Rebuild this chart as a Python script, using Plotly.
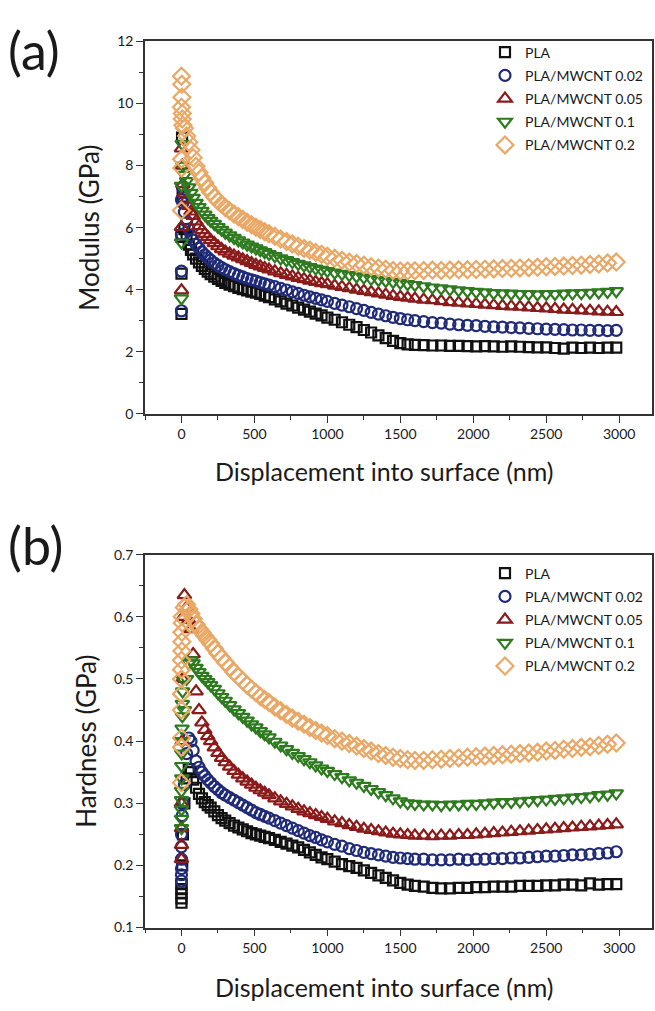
import plotly.graph_objects as go

# ---------------- data ----------------
SERIES = ["PLA", "PLA/MWCNT 0.02", "PLA/MWCNT 0.05", "PLA/MWCNT 0.1", "PLA/MWCNT 0.2"]

DISP = [20, 35, 50, 65, 80,
        100, 120, 140, 160, 180,
        200, 225, 250, 275, 300,
        330, 360, 390, 420, 450,
        480, 510, 540, 570, 600,
        640, 680, 720, 760, 800,
        840, 880, 920, 960, 1000,
        1050, 1100, 1150, 1200, 1250,
        1300, 1350, 1400, 1450, 1500,
        1550, 1600, 1660, 1720, 1780,
        1840, 1900, 1960, 2020, 2080,
        2140, 2200, 2260, 2320, 2380,
        2440, 2500, 2560, 2620, 2680,
        2740, 2800, 2860, 2920, 2980]

# Modulus (GPa)
MOD_PLA = [5.95, 5.7, 5.45, 5.28, 5.14,
           5.0, 4.88, 4.77, 4.67, 4.58,
           4.5, 4.42, 4.35, 4.28, 4.22,
           4.16, 4.11, 4.06, 4.02, 3.98,
           3.94, 3.9, 3.86, 3.81, 3.76,
           3.69, 3.62, 3.55, 3.49, 3.42,
           3.36, 3.29, 3.23, 3.17, 3.1,
           3.03, 2.95, 2.87, 2.79, 2.7,
           2.62, 2.53, 2.44, 2.35, 2.28,
           2.24, 2.22, 2.21, 2.2, 2.2,
           2.19, 2.19, 2.18, 2.17, 2.18,
           2.17, 2.16, 2.17, 2.16, 2.15,
           2.14, 2.14, 2.12, 2.1, 2.13,
           2.12, 2.13, 2.12, 2.13, 2.13]
MOD_002 = [6.5, 6.2, 5.95, 5.75, 5.6,
           5.46, 5.34, 5.22, 5.12, 5.03,
           4.95, 4.86, 4.78, 4.71, 4.65,
           4.58, 4.52, 4.46, 4.41, 4.36,
           4.32, 4.28, 4.23, 4.19, 4.15,
           4.1, 4.04, 3.99, 3.93, 3.88,
           3.82, 3.77, 3.72, 3.67, 3.62,
           3.56, 3.5, 3.45, 3.39, 3.33,
           3.27, 3.21, 3.16, 3.11, 3.07,
           3.03, 3.0, 2.97, 2.94, 2.92,
           2.89, 2.87, 2.85, 2.84, 2.82,
           2.8, 2.79, 2.78, 2.77, 2.75,
           2.74, 2.73, 2.72, 2.71, 2.7,
           2.7, 2.69, 2.69, 2.68, 2.69]
MOD_005 = [7.1, 6.9, 6.7, 6.52, 6.38,
           6.2, 6.05, 5.92, 5.8, 5.7,
           5.6, 5.5, 5.4, 5.31, 5.23,
           5.16, 5.1, 5.04, 4.98, 4.92,
           4.86, 4.8, 4.75, 4.7, 4.65,
           4.59, 4.53, 4.48, 4.43, 4.38,
           4.34, 4.29, 4.25, 4.21, 4.18,
           4.13, 4.09, 4.05, 4.0, 3.96,
           3.92, 3.88, 3.84, 3.8, 3.77,
           3.74, 3.71, 3.68, 3.66, 3.63,
           3.6, 3.58, 3.56, 3.54, 3.52,
           3.5, 3.48, 3.46, 3.45, 3.43,
           3.41, 3.4, 3.38, 3.36, 3.35,
           3.33, 3.32, 3.3, 3.29, 3.28]
MOD_01 = [7.7, 7.5, 7.3, 7.12, 6.96,
          6.8, 6.66, 6.54, 6.42, 6.31,
          6.22, 6.12, 6.02, 5.93, 5.84,
          5.75, 5.67, 5.59, 5.52, 5.45,
          5.39, 5.33, 5.27, 5.21, 5.15,
          5.08, 5.01, 4.95, 4.89, 4.83,
          4.78, 4.73, 4.68, 4.64, 4.6,
          4.55, 4.51, 4.47, 4.43, 4.39,
          4.35, 4.31, 4.28, 4.25, 4.22,
          4.18, 4.15, 4.11, 4.07, 4.04,
          4.01, 3.98, 3.95, 3.93, 3.91,
          3.89, 3.88, 3.87, 3.86, 3.86,
          3.85, 3.86, 3.86, 3.87, 3.88,
          3.89, 3.9, 3.91, 3.93, 3.95]
MOD_02 = [9.2, 8.95, 8.75, 8.5, 8.25,
          7.98, 7.78, 7.6, 7.44, 7.28,
          7.14, 6.99, 6.86, 6.75, 6.65,
          6.54, 6.44, 6.35, 6.26, 6.17,
          6.09, 6.01, 5.94, 5.87, 5.8,
          5.72, 5.63, 5.55, 5.47, 5.4,
          5.33, 5.27, 5.2, 5.14, 5.08,
          5.01, 4.95, 4.89, 4.84, 4.79,
          4.74, 4.7, 4.66, 4.62, 4.6,
          4.6, 4.61, 4.62, 4.63, 4.62,
          4.63, 4.64, 4.64, 4.65, 4.66,
          4.67, 4.68, 4.69, 4.7, 4.71,
          4.72, 4.74, 4.75, 4.76, 4.78,
          4.79, 4.81, 4.83, 4.86, 4.89]

# near-surface points (displacement ~0) of the modulus curves
MOD_PRE_X = [[0, 0, 0, 4, 8],
             [0, 0, 0, 0, 6, 10],
             [0, 0, 0, 5, 10],
             [0, 0, 0, 5, 10],
             [0, 2, 3, 0, 6, 0, 2, 0, 5, 10]]
MOD_PRE_Y = [[3.22, 4.52, 5.7, 8.9, 7.0],
             [3.32, 4.6, 5.78, 6.9, 7.3, 6.8],
             [3.98, 6.02, 8.55, 8.0, 7.4],
             [3.72, 5.52, 7.35, 8.7, 8.0],
             [10.88, 10.62, 10.2, 9.88, 9.68, 8.2, 7.92, 6.55, 9.5, 9.3]]

# Hardness (GPa)
HARD_PLA = [0.3, 0.34, 0.355, 0.35, 0.338,
            0.325, 0.315, 0.308, 0.302, 0.297,
            0.293, 0.287, 0.281, 0.276, 0.272,
            0.268, 0.264, 0.261, 0.258, 0.255,
            0.252, 0.25, 0.248, 0.246, 0.244,
            0.241, 0.238, 0.235, 0.232, 0.229,
            0.225, 0.221, 0.217, 0.213, 0.21,
            0.206, 0.202, 0.199, 0.196, 0.192,
            0.188, 0.184, 0.18, 0.176, 0.172,
            0.169, 0.167, 0.166, 0.164, 0.163,
            0.163, 0.164, 0.164, 0.165, 0.165,
            0.166, 0.166, 0.166, 0.167, 0.167,
            0.167, 0.168, 0.168, 0.169, 0.169,
            0.168, 0.171, 0.169, 0.17, 0.17]
HARD_002 = [0.33, 0.38, 0.405, 0.4, 0.385,
            0.368, 0.358, 0.35, 0.344, 0.338,
            0.333, 0.327, 0.322, 0.317, 0.313,
            0.309, 0.305, 0.301, 0.297, 0.293,
            0.289, 0.285, 0.282, 0.279, 0.276,
            0.272, 0.268, 0.264, 0.26, 0.256,
            0.252, 0.248, 0.245, 0.241, 0.238,
            0.234, 0.231, 0.227, 0.224, 0.221,
            0.219, 0.217, 0.215, 0.213, 0.212,
            0.211, 0.21, 0.21, 0.209, 0.209,
            0.209, 0.21, 0.209, 0.21, 0.21,
            0.211, 0.211, 0.212, 0.212, 0.213,
            0.214, 0.215, 0.215, 0.216, 0.217,
            0.217, 0.218, 0.219, 0.22, 0.222]
HARD_005 = [0.635, 0.615, 0.595, 0.58, 0.54,
            0.48, 0.45, 0.43, 0.418, 0.408,
            0.4, 0.39, 0.381, 0.373, 0.366,
            0.359, 0.352, 0.346, 0.34, 0.335,
            0.33, 0.325, 0.321, 0.317, 0.313,
            0.308, 0.303, 0.299, 0.295, 0.291,
            0.287, 0.284, 0.281, 0.278, 0.275,
            0.271, 0.268, 0.265, 0.262, 0.259,
            0.257, 0.255, 0.253, 0.251, 0.25,
            0.249, 0.248, 0.248, 0.247, 0.248,
            0.248, 0.249, 0.249, 0.25, 0.251,
            0.252, 0.253, 0.254, 0.255, 0.256,
            0.257, 0.258, 0.259, 0.26, 0.261,
            0.262, 0.263, 0.264, 0.265, 0.266]
HARD_01 = [0.45, 0.5, 0.525, 0.53, 0.525,
           0.518, 0.511, 0.505, 0.5, 0.495,
           0.49, 0.484, 0.477, 0.471, 0.465,
           0.458, 0.451, 0.445, 0.439, 0.433,
           0.427, 0.422, 0.416, 0.411, 0.406,
           0.399, 0.393, 0.387, 0.381, 0.376,
           0.371, 0.366, 0.361, 0.356, 0.352,
           0.347, 0.342, 0.337, 0.333, 0.328,
           0.323, 0.318, 0.313, 0.308, 0.303,
           0.3, 0.299, 0.298, 0.298, 0.297,
           0.298, 0.298, 0.299, 0.299, 0.3,
           0.301, 0.302, 0.302, 0.303, 0.304,
           0.305, 0.306, 0.307, 0.308, 0.309,
           0.31, 0.311, 0.313, 0.314, 0.316]
HARD_02 = [0.615, 0.62, 0.612, 0.605, 0.597,
           0.588, 0.581, 0.575, 0.569, 0.563,
           0.557, 0.549, 0.541, 0.534, 0.527,
           0.519, 0.511, 0.504, 0.497, 0.49,
           0.484, 0.478, 0.472, 0.467, 0.462,
           0.455, 0.449, 0.443, 0.437, 0.432,
           0.427, 0.422, 0.417, 0.413, 0.409,
           0.404, 0.4, 0.396, 0.392, 0.388,
           0.384, 0.38, 0.377, 0.374, 0.372,
           0.37, 0.369, 0.369, 0.37, 0.371,
           0.372, 0.373, 0.374, 0.375, 0.376,
           0.377, 0.378, 0.379, 0.38, 0.381,
           0.382, 0.384, 0.385, 0.387, 0.388,
           0.39, 0.391, 0.393, 0.395, 0.397]

HARD_PRE_X = [[0, 0, 0, 0, 0, 5, 10],
              [0, 0, 0, 0, 0, 0, 5, 10],
              [0, 0, 0, 0, 5, 8, 12],
              [0, 0, 0, 0, 0, 2, 2, 2, 4, 4, 6, 6, 8, 10],
              [0, 0, 0, 0, 0, 0, 0, 0, 3, 3, 3, 5, 5]]
HARD_PRE_Y = [[0.14, 0.147, 0.155, 0.162, 0.17, 0.2, 0.25],
              [0.175, 0.185, 0.195, 0.21, 0.23, 0.25, 0.28, 0.3],
              [0.21, 0.233, 0.26, 0.3, 0.4, 0.5, 0.6],
              [0.26, 0.275, 0.29, 0.305, 0.32, 0.34, 0.36, 0.38, 0.4, 0.42, 0.44, 0.46, 0.48, 0.5],
              [0.333, 0.39, 0.405, 0.45, 0.476, 0.5, 0.515, 0.53, 0.545, 0.56, 0.575, 0.59, 0.6]]

MODULUS = [MOD_PLA, MOD_002, MOD_005, MOD_01, MOD_02]
HARDNESS = [HARD_PLA, HARD_002, HARD_005, HARD_01, HARD_02]

X_TICKS = [0, 500, 1000, 1500, 2000, 2500, 3000]
X_TITLE = "Displacement into surface (nm)"

# ---------------- style ----------------
COLORS = ["#111111", "#1f2a78", "#8b1a1a", "#2e7a1f", "#e9a866"]
SYMBOLS = ["square-open", "circle-open", "triangle-up-open", "triangle-down-open", "diamond-open"]
SIZES = [10, 11, 12, 12, 13]
FONT = "Lato, 'Open Sans', sans-serif"
TXT = "#1a1a1a"

fig = go.Figure()

for panel, (vals, pre_x, pre_y) in enumerate([(MODULUS, MOD_PRE_X, MOD_PRE_Y),
                                              (HARDNESS, HARD_PRE_X, HARD_PRE_Y)]):
    xa = "x" if panel == 0 else "x2"
    ya = "y" if panel == 0 else "y2"
    leg = "legend" if panel == 0 else "legend2"
    for i, name in enumerate(SERIES):
        fig.add_trace(go.Scatter(
            x=pre_x[i] + DISP,
            y=pre_y[i] + vals[i],
            mode="markers",
            name=name,
            legendgroup=f"{panel}-{i}",
            legend=leg,
            xaxis=xa, yaxis=ya,
            marker=dict(symbol=SYMBOLS[i], size=SIZES[i], color=COLORS[i],
                        line=dict(width=2.2, color=COLORS[i])),
            showlegend=True,
        ))

W, H = 655, 1011
xdom = [145 / W, 652 / W]
ydom_a = [1 - 411.7 / H, 1 - 33 / H]
ydom_b = [1 - 934.3 / H, 1 - 555 / H]

axis_common = dict(
    showline=True, linecolor="#333333", linewidth=1.5, mirror=True,
    ticks="outside", ticklen=7, tickwidth=1.2, tickcolor="#333333",
    showgrid=False, zeroline=False,
    tickfont=dict(family=FONT, size=14, color=TXT),
)

xaxis_common = dict(axis_common, range=[-250, 3225], tickvals=X_TICKS,
                    minor=dict(ticks="outside", ticklen=4, tickwidth=1.2,
                               tickcolor="#333333", dtick=250, tick0=-250))

legend_common = dict(x=485 / W, xanchor="left", yanchor="top",
                     bgcolor="rgba(0,0,0,0)", font=dict(family=FONT, size=14, color=TXT),
                     tracegroupgap=2, itemclick=False)

fig.update_layout(
    width=W, height=H,
    margin=dict(l=0, r=0, t=0, b=0),
    paper_bgcolor="white", plot_bgcolor="white",
    font=dict(family=FONT, color=TXT),
    xaxis=dict(xaxis_common, domain=xdom, anchor="y"),
    xaxis2=dict(xaxis_common, domain=xdom, anchor="y2"),
    yaxis=dict(axis_common, domain=ydom_a, anchor="x", range=[0, 12], dtick=2,
               minor=dict(ticks="outside", ticklen=4, tickwidth=1.2, tickcolor="#333333", dtick=1),
               title=dict(text="Modulus (GPa)", font=dict(family=FONT, size=26, color=TXT), standoff=10)),
    yaxis2=dict(axis_common, domain=ydom_b, anchor="x2", range=[0.1, 0.7], dtick=0.1,
                tickformat=".1f",
                minor=dict(ticks="outside", ticklen=4, tickwidth=1.2, tickcolor="#333333", dtick=0.05),
                title=dict(text="Hardness (GPa)", font=dict(family=FONT, size=26, color=TXT), standoff=10)),
    legend=dict(legend_common, y=1 - 28 / H),
    legend2=dict(legend_common, y=1 - 558 / H),
    annotations=[
        dict(text="(a)", x=6 / W, y=1 - 42 / H, xref="paper", yref="paper",
             xanchor="left", yanchor="middle", showarrow=False,
             font=dict(family=FONT, size=52, color=TXT)),
        dict(text="(b)", x=6 / W, y=1 - 545 / H, xref="paper", yref="paper",
             xanchor="left", yanchor="middle", showarrow=False,
             font=dict(family=FONT, size=52, color=TXT)),
        dict(text=X_TITLE, x=384 / W, y=1 - 470 / H, xref="paper", yref="paper",
             xanchor="center", yanchor="middle", showarrow=False,
             font=dict(family=FONT, size=25, color=TXT)),
        dict(text=X_TITLE, x=384 / W, y=1 - 995 / H, xref="paper", yref="paper",
             xanchor="center", yanchor="middle", showarrow=False,
             font=dict(family=FONT, size=25, color=TXT)),
    ],
)

fig.write_html("out.html")
